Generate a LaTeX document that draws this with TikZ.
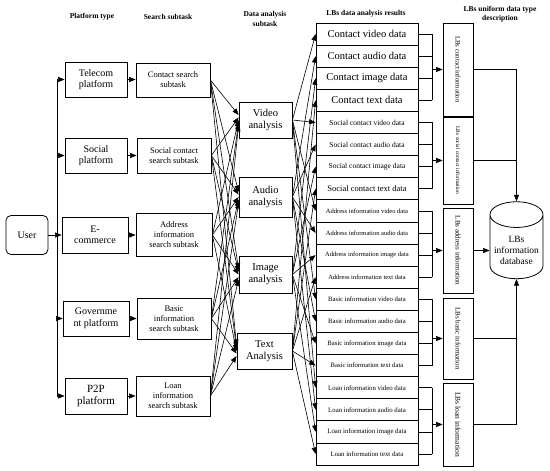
\documentclass[tikz,border=0pt]{standalone}
\usepackage{fontspec}
\setmainfont{Liberation Serif}
\usetikzlibrary{positioning, shapes.geometric, arrows.meta}
\newcommand{\fsz}[2]{\fontsize{#1}{#2}\selectfont}

\begin{document}
\begin{tikzpicture}[
  x=1pt, y=-1pt,
  line width=0.8pt,
  box/.style={draw, align=center, inner sep=1pt},
  plat/.style={box, font=\fsz{10}{11.5}},
  srch/.style={box, font=\fsz{8.5}{10}},
  anal/.style={box, minimum width=53pt, font=\fsz{10.5}{12}},
  res/.style={draw, minimum width=102pt, minimum height=22.1pt, inner sep=0pt},
  desc/.style={draw, minimum width=30pt},
  head/.style={font=\bfseries\fsz{7.5}{9.5}, align=center},
  arr/.style={-{Triangle[length=6.5pt, width=5pt]}, line width=0.6pt},
  link/.style={line width=0.6pt}
]
  \useasboundingbox (0,0) rectangle (550,471);

  % --- Encabezados de columna ---
  \node[head] (hPlat) at (92,17)  {Platform type};
  \node[head] (hSrch) at (168,17) {Search subtask};
  \node[head] (hAnal) at (265,19) {Data analysis\\subtask};
  \node[head] (hRes)  at (366,14) {LBs data analysis results};
  \node[head] (hDesc) at (500,14) {LBs uniform data type\\description};

  % --- Usuario y plataformas ---
  \node[plat, rounded corners=5pt, minimum width=42pt, minimum height=39pt] (user) at (27,235) {User};
  \node[plat, minimum width=62pt, minimum height=35pt] (tel)  at (96,79.5)  {Telecom\\platform};
  \node[plat, minimum width=62pt, minimum height=35pt] (soc)  at (96,155.5) {Social\\platform};
  \node[plat, minimum width=66pt, minimum height=36pt] (ecom) at (95,235)   {E-\\commerce};
  \node[plat, minimum width=66pt, minimum height=35pt] (gov)  at (96,318.5) {Governme\\nt platform};
  \node[plat, font=\fsz{11}{12.5}, minimum width=62pt, minimum height=36pt] (p2p) at (96,396) {P2P\\platform};

  % --- Subtareas de búsqueda ---
  \node[srch, minimum width=74pt, minimum height=34pt] (contS) at (173,80)    {Contact search\\subtask};
  \node[srch, minimum width=74pt, minimum height=35pt] (socS)  at (174,155.5) {Social contact\\search subtask};
  \node[srch, minimum width=76pt, minimum height=43pt] (addrS) at (174,235)   {Address\\information\\search subtask};
  \node[srch, minimum width=74pt, minimum height=41pt] (basS)  at (174,318.5) {Basic\\information\\search subtask};
  \node[srch, minimum width=74pt, minimum height=40pt] (loanS) at (173,396)   {Loan\\information\\search subtask};

  % --- Subtareas de análisis ---
  \node[anal, minimum height=36pt] (video) at (265.5,120)   {Video\\analysis};
  \node[anal, minimum height=40pt] (audio) at (265.5,197)   {Audio\\analysis};
  \node[anal, minimum height=37pt] (image) at (265.5,274.5) {Image\\analysis};
  \node[anal, minimum width=55pt, minimum height=36pt] (text) at (264.5,351) {Text\\Analysis};

  % --- Resultados (20 filas) ---
  \node[res, font=\fsz{10.5}{12}] (r0)  at (367,34.05)  {Contact video data};
  \node[res, font=\fsz{10.5}{12}] (r1)  at (367,56.15)  {Contact audio data};
  \node[res, font=\fsz{10.5}{12}] (r2)  at (367,78.25)  {Contact image data};
  \node[res, font=\fsz{10.5}{12}] (r3)  at (367,100.35) {Contact text data};
  \node[res, font=\fsz{7.5}{9}]   (r4)  at (367,122.45) {Social contact video data};
  \node[res, font=\fsz{7.5}{9}]   (r5)  at (367,144.55) {Social contact audio data};
  \node[res, font=\fsz{7.5}{9}]   (r6)  at (367,166.65) {Social contact image data};
  \node[res, font=\fsz{8.5}{10}]  (r7)  at (367,188.75) {Social contact text data};
  \node[res, font=\fsz{6.5}{8}]   (r8)  at (367,210.85) {Address information video data};
  \node[res, font=\fsz{6.5}{8}]   (r9)  at (367,232.95) {Address information audio data};
  \node[res, font=\fsz{6.5}{8}]   (r10) at (367,255.05) {Address information image data};
  \node[res, font=\fsz{6.5}{8}]   (r11) at (367,277.15) {Address information text data};
  \node[res, font=\fsz{6.7}{8}]   (r12) at (367,299.25) {Basic information video data};
  \node[res, font=\fsz{6.7}{8}]   (r13) at (367,321.35) {Basic information audio data};
  \node[res, font=\fsz{6.7}{8}]   (r14) at (367,343.45) {Basic information image data};
  \node[res, font=\fsz{6.7}{8}]   (r15) at (367,365.55) {Basic information text data};
  \node[res, font=\fsz{6.8}{8}]   (r16) at (367,387.65) {Loan information video data};
  \node[res, font=\fsz{6.8}{8}]   (r17) at (367,409.75) {Loan information audio data};
  \node[res, font=\fsz{6.8}{8}]   (r18) at (367,431.85) {Loan information image data};
  \node[res, font=\fsz{6.8}{8}]   (r19) at (367,453.95) {Loan information text data};

  % --- Descripción uniforme (texto vertical) ---
  \node[desc, minimum height=93pt] (d1) at (458,69.5)  {};
  \node[desc, minimum height=87pt] (d2) at (458,160.5) {};
  \node[desc, minimum height=85pt] (d3) at (458,250.5) {};
  \node[desc, minimum height=81pt] (d4) at (458,338.5) {};
  \node[desc, minimum height=83pt] (d5) at (458,424.5) {};
  \node[rotate=-90, font=\fsz{6.8}{8}] (d1t) at (d1) {LBs contact information};
  \node[rotate=-90, font=\fsz{5.5}{7}] (d2t) at (d2) {LBs social contact information};
  \node[rotate=-90, font=\fsz{7}{8}]   (d3t) at (d3) {LBs address information};
  \node[rotate=-90, font=\fsz{7}{8}]   (d4t) at (d4) {LBs basic information};
  \node[rotate=-90, font=\fsz{7.5}{8}] (d5t) at (d5) {LBs loan information};

  % --- Base de datos ---
  \node[draw, cylinder, shape border rotate=90, aspect=0.5, minimum width=53pt, minimum height=77pt,
        align=center, font=\fsz{9.5}{11}] (db) at (516.5,250) {LBs\\information\\database};

  % --- Conectores: usuario -> plataformas -> búsqueda ---
  \coordinate (bus) at (57,0);
  \draw[link] (bus |- tel.west) -- (bus |- p2p.west);
  \draw[arr] (user.east) -- (ecom.west);
  \foreach \p in {tel,soc,gov,p2p}
    \draw[arr] (bus |- \p.west) -- (\p.west);
  \draw[arr] (tel.east)  -- (tel.east -| contS.west);
  \draw[arr] (soc.east)  -- (soc.east -| socS.west);
  \draw[arr] (ecom.east) -- (ecom.east -| addrS.west);
  \draw[arr] (gov.east)  -- (gov.east -| basS.west);
  \draw[arr] (p2p.east)  -- (p2p.east -| loanS.west);

  % búsqueda -> análisis (todos con todos)
  \foreach \s [count=\i from 0] in {contS,socS,addrS,basS,loanS}
    \foreach \a in {video,audio,image,text}
      \draw[arr] (\s.east) -- ([yshift={(2-\i)*2.5pt}]\a.west);

  % análisis -> resultados
  \foreach \a [count=\j from 0] in {video,audio,image,text}
    \foreach \g in {0,...,4} {
      \pgfmathtruncatemacro{\r}{4*\g+\j}
      \draw[arr] (\a.east) -- (r\r.west);
    }

  % resultados -> descripción (llaves)
  \coordinate (brk) at (432,0);
  \foreach \g [count=\k from 1] in {0,...,4} {
    \pgfmathtruncatemacro{\ra}{4*\g}
    \pgfmathtruncatemacro{\rb}{4*\g+3}
    \foreach \q in {0,...,3} {
      \pgfmathtruncatemacro{\r}{4*\g+\q}
      \draw[link] (r\r.east) -- (brk |- r\r.east);
    }
    \draw[link] (brk |- r\ra.east) -- (brk |- r\rb.east);
    \draw[arr] (brk |- d\k.west) -- (d\k.west);
  }

  % descripción -> base de datos
  \draw[arr]  (d1.east) -| (db.north);
  \draw[link] (d2.east) -- (d2.east -| db.north);
  \draw[arr]  (d3.east) -- (d3.east -| db.west);
  \draw[link] (d4.east) -- (d4.east -| db.south);
  \draw[arr]  (d5.east) -| (db.south);

\end{tikzpicture}
\end{document}
